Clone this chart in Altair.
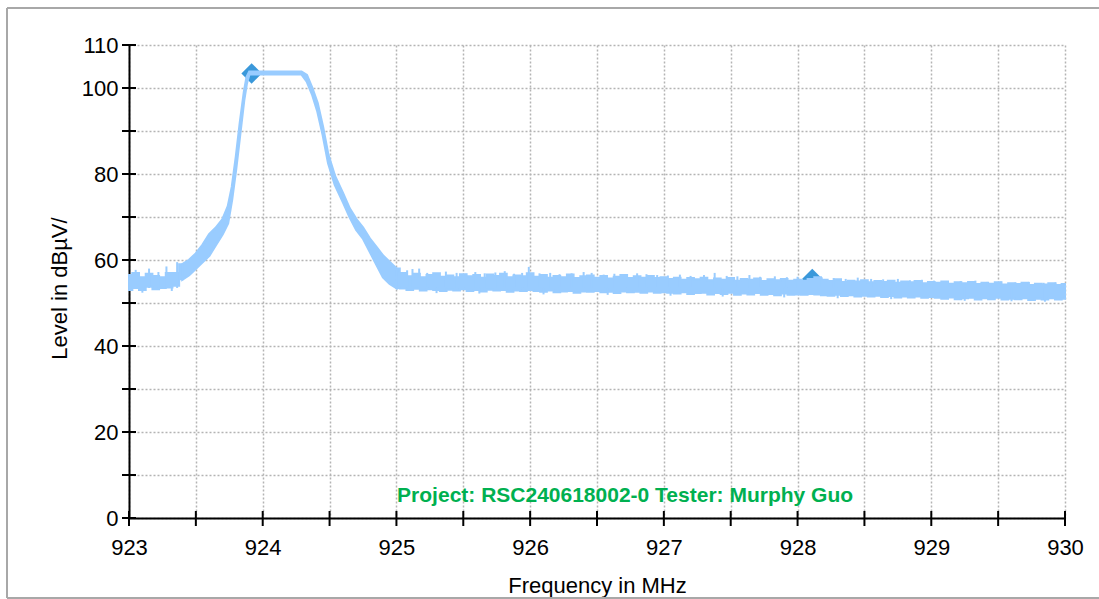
import altair as alt
import pandas as pd

# ---- Spectrum trace: lower / upper envelope of the sweep (dBµV) ----
# 923.00 .. 923.40 MHz, noise floor before the carrier
floor1_freq = [923.00, 923.05, 923.10, 923.15, 923.20, 923.25, 923.30, 923.35, 923.40]
floor1_hi = [56.5, 57.0, 56.0, 56.8, 56.3, 56.0, 57.0, 57.0, 59.0]
floor1_lo = [53.0, 53.5, 53.0, 53.8, 53.2, 53.5, 53.6, 54.0, 55.5]

# carrier: rising edge, flat top, falling edge
carrier_freq = [923.40, 923.45, 923.50, 923.55, 923.60, 923.65, 923.70, 923.74, 923.77, 923.80,
                923.83, 923.86, 923.88, 923.90, 924.29, 924.33, 924.37, 924.41, 924.45,
                924.49, 924.54, 924.60, 924.65, 924.70, 924.75, 924.80, 924.85, 924.90,
                924.95, 925.00]
carrier_hi = [59.0, 60.0, 61.5, 63.5, 66.0, 67.5, 69.5, 72.5, 77.0, 84.0,
              92.0, 99.0, 102.5, 103.8, 103.8, 103.0, 100.0, 96.5, 91.0,
              84.5, 79.5, 75.5, 72.0, 69.5, 67.5, 65.0, 63.0, 61.0,
              59.5, 58.0]
carrier_lo = [55.5, 56.5, 58.0, 59.5, 61.0, 63.5, 66.0, 68.5, 74.0, 81.0,
              89.0, 97.0, 101.0, 103.2, 103.2, 101.5, 98.5, 94.5, 89.0,
              82.5, 77.5, 73.5, 70.0, 67.0, 65.0, 62.0, 59.0, 56.0,
              54.5, 53.5]

# 925.00 .. 930.00 MHz, noise floor after the carrier (0.05 MHz sweep points)
floor2_freq = [round(925.00 + 0.05 * i, 2) for i in range(101)]
floor2_hi = [
    58.0,
    57.0, 56.2, 56.8, 56.0, 56.5, 56.9, 56.1, 56.4, 56.0, 56.7, 56.2, 56.5, 55.9, 56.6, 56.3, 56.8, 56.0, 56.4, 56.2, 56.9,
    56.1, 56.5, 55.9, 56.3, 56.0, 56.6, 55.8, 56.2, 56.4, 55.9, 56.3, 55.7, 56.1, 56.5, 55.8, 56.2, 55.9, 56.3, 55.8, 56.0,
    55.6, 55.9, 55.4, 55.8, 55.5, 55.9, 55.3, 55.7, 55.4, 55.8, 55.2, 55.6, 55.4, 55.7, 55.1, 55.5, 55.3, 55.6, 55.2, 55.4,
    55.2, 55.6, 56.0, 55.4, 55.1, 55.5, 54.9, 55.2, 55.0, 55.3, 54.8, 55.1, 54.9, 55.2, 54.7, 55.0, 54.8, 55.1, 54.6, 54.9,
    54.7, 55.0, 54.5, 54.8, 54.6, 54.9, 54.4, 54.7, 54.5, 54.8, 54.3, 54.6, 54.4, 54.7, 54.2, 54.5, 54.3, 54.6, 54.2, 54.4,
]
floor2_lo = [
    53.5,
    53.4, 53.0, 53.3, 52.9, 53.2, 53.0, 52.8, 53.1, 52.9, 53.2, 52.8, 53.0, 52.7, 53.1, 52.9, 53.0, 52.6, 52.9, 52.8, 53.0,
    52.8, 52.6, 52.9, 52.5, 52.7, 52.8, 52.4, 52.7, 52.6, 52.8, 52.5, 52.6, 52.3, 52.7, 52.5, 52.6, 52.4, 52.7, 52.4, 52.5,
    52.4, 52.2, 52.5, 52.1, 52.3, 52.4, 52.0, 52.3, 52.1, 52.4, 51.9, 52.2, 52.0, 52.3, 51.9, 52.1, 51.8, 52.2, 51.9, 52.0,
    51.9, 52.1, 52.0, 51.8, 51.7, 51.9, 51.6, 51.8, 51.5, 51.7, 51.5, 51.7, 51.4, 51.6, 51.3, 51.5, 51.3, 51.5, 51.2, 51.4,
    51.2, 51.0, 51.3, 50.9, 51.1, 51.2, 50.8, 51.1, 50.9, 51.2, 50.8, 51.0, 50.9, 51.1, 50.7, 51.0, 50.8, 51.1, 50.8, 51.0,
]

# isolated noise peaks rising above the floor
spike_freq = [923.05, 923.15, 923.22, 923.28, 923.36,
              925.08, 925.12, 925.17, 925.23, 925.31, 925.37, 925.45, 925.52, 925.59, 925.66,
              925.74, 925.81, 925.88, 925.94, 925.99, 926.07, 926.15, 926.22, 926.31, 926.40,
              926.46, 926.55, 926.63, 926.71, 926.80, 926.87, 926.95, 927.03, 927.12, 927.20,
              927.30, 927.38, 927.47, 927.55, 927.64, 927.72, 927.83, 927.92, 928.00, 928.18,
              928.27, 928.36, 928.45, 928.55, 928.64, 928.75, 928.84, 928.93, 929.02, 929.12,
              929.22, 929.33, 929.42, 929.52, 929.63, 929.73, 929.84, 929.93, 929.98]
spike_top = [57.7, 58.0, 57.2, 58.5, 59.5,
             57.6, 57.9, 58.0, 57.0, 56.9, 57.3, 57.0, 56.8, 57.2, 56.9,
             57.1, 57.4, 56.8, 57.0, 58.4, 56.9, 57.0, 56.7, 56.9, 57.2,
             57.0, 56.6, 56.8, 56.6, 56.9, 56.7, 56.5, 56.4, 56.6, 56.3,
             56.5, 57.0, 56.3, 56.2, 56.5, 56.1, 56.2, 56.0, 56.1, 56.0,
             55.8, 55.6, 55.9, 55.6, 55.5, 55.6, 55.3, 55.4, 55.2, 55.0,
             55.1, 55.2, 54.9, 55.0, 54.8, 54.9, 54.7, 54.8, 54.6]
# dips below the floor
dip_freq = [923.10, 923.32, 925.30, 925.62, 926.10, 926.58, 927.05, 927.44, 927.90,
            928.30, 928.70, 929.25, 929.60, 929.85]
dip_bottom = [52.4, 52.8, 52.3, 52.2, 52.0, 51.9, 51.7, 51.5, 51.3,
              51.1, 50.9, 50.5, 50.4, 50.3]
floor_mid = 53.5

# markers
marker_freq = [923.917, 928.11]
marker_level = [103.4, 55.6]

# axis ticks
x_ticks = [923.0, 923.5, 924.0, 924.5, 925.0, 925.5, 926.0, 926.5, 927.0,
           927.5, 928.0, 928.5, 929.0, 929.5, 930.0]
y_ticks = [0, 10, 20, 30, 40, 50, 60, 70, 80, 90, 100, 110]
y_labelled = [0, 20, 40, 60, 80, 100, 110]

note_text = "Project: RSC240618002-0 Tester: Murphy Guo"
note_freq = 926.71
note_level = 3.7

TRACE = "#99CCFF"
MARKER = "#3A98DA"
FONT = "Liberation Sans"

floor_df = pd.DataFrame({
    "freq": floor1_freq + floor2_freq,
    "lo": floor1_lo + floor2_lo,
    "hi": floor1_hi + floor2_hi,
    "seg": ["a"] * len(floor1_freq) + ["b"] * len(floor2_freq),
})
carrier_df = pd.DataFrame({"freq": carrier_freq, "lo": carrier_lo, "hi": carrier_hi})
spikes = pd.DataFrame({"freq": spike_freq + dip_freq,
                       "end": spike_top + dip_bottom,
                       "mid": floor_mid})
markers = pd.DataFrame({"freq": marker_freq, "level": marker_level})
xt = pd.DataFrame({"freq": x_ticks})
yt = pd.DataFrame({"level": y_ticks})
note = pd.DataFrame({"freq": [note_freq], "level": [note_level], "text": [note_text]})

xscale = alt.Scale(domain=[923, 930], nice=False, zero=False)
yscale = alt.Scale(domain=[0, 110], nice=False)

label_list = "[" + ", ".join(str(v) for v in y_labelled) + "]"

x_axis = alt.Axis(
    values=x_ticks,
    labelExpr="datum.value % 1 == 0 ? format(datum.value, 'd') : ''",
    title="Frequency in MHz",
    titleFont=FONT, titleFontSize=22, titleFontWeight="normal", titleColor="black",
    titleY=74, titleBaseline="alphabetic",
    labelFont=FONT, labelFontSize=22, labelColor="black", labelPadding=19,
    tickSize=0, domainColor="black", domainWidth=2,
    grid=True, gridColor="#b4b4b4", gridDash=[2, 2], gridWidth=1.5,
    labelFlush=False,
)
y_axis = alt.Axis(
    values=y_ticks,
    labelExpr="indexof(" + label_list + ", datum.value) >= 0 ? datum.label : ''",
    title="Level in dBµV/",
    titleFont=FONT, titleFontSize=22, titleFontWeight="normal", titleColor="black",
    titleAngle=270, titleX=-63, titleY=243, titleAlign="center", titleBaseline="alphabetic",
    labelFont=FONT, labelFontSize=22, labelColor="black", labelPadding=11,
    tickSize=0, domainColor="black", domainWidth=2,
    grid=True, gridColor="#b4b4b4", gridDash=[2, 2], gridWidth=1.5,
    labelFlush=False,
)

# window frame: top, left and bottom edges
frame_color = "#a8a8a8"
frame_top = alt.Chart(note).mark_rule(color=frame_color, strokeWidth=2).encode(
    x=alt.value(-122), x2=alt.value(975), y=alt.value(-37)
)
frame_left = alt.Chart(note).mark_rule(color=frame_color, strokeWidth=2).encode(
    x=alt.value(-122), y=alt.value(-37), y2=alt.value(553)
)
frame_bottom = alt.Chart(note).mark_rule(color=frame_color, strokeWidth=2).encode(
    x=alt.value(-122), x2=alt.value(975), y=alt.value(553)
)

marker_layer = alt.Chart(markers).mark_point(
    shape="diamond", filled=True, size=420, color=MARKER, opacity=1
).encode(
    x=alt.X("freq:Q", scale=xscale, axis=x_axis),
    y=alt.Y("level:Q", scale=yscale, axis=y_axis),
)

floor_band = alt.Chart(floor_df).mark_area(
    color=TRACE, stroke=TRACE, strokeWidth=2, opacity=1, fillOpacity=1,
    interpolate="step",
).encode(
    x=alt.X("freq:Q", scale=xscale),
    y=alt.Y("lo:Q", scale=yscale),
    y2="hi:Q",
    detail="seg:N",
)

carrier_band = alt.Chart(carrier_df).mark_area(
    color=TRACE, stroke=TRACE, strokeWidth=2.5, opacity=1, fillOpacity=1,
).encode(
    x=alt.X("freq:Q", scale=xscale),
    y=alt.Y("lo:Q", scale=yscale),
    y2="hi:Q",
)

spike_layer = alt.Chart(spikes).mark_rule(color=TRACE, strokeWidth=2).encode(
    x=alt.X("freq:Q", scale=xscale),
    y=alt.Y("mid:Q", scale=yscale),
    y2="end:Q",
)

y_tick_layer = alt.Chart(yt).mark_rule(color="black", strokeWidth=2).encode(
    x=alt.value(-7), x2=alt.value(7),
    y=alt.Y("level:Q", scale=yscale),
)
x_tick_layer = alt.Chart(xt).mark_rule(color="black", strokeWidth=2).encode(
    x=alt.X("freq:Q", scale=xscale),
    y=alt.value(466), y2=alt.value(481),
)

note_layer = alt.Chart(note).mark_text(
    font=FONT, fontSize=21, fontWeight="bold", color="#00B050",
    align="center", baseline="alphabetic",
).encode(
    x=alt.X("freq:Q", scale=xscale),
    y=alt.Y("level:Q", scale=yscale),
    text="text:N",
)

chart = alt.layer(
    frame_top, frame_left, frame_bottom, marker_layer, floor_band, carrier_band,
    spike_layer, y_tick_layer, x_tick_layer, note_layer
).properties(
    width=936, height=473,
    autosize=alt.AutoSizeParams(type="none"),
    padding={"left": 129, "top": 45, "right": 34, "bottom": 81},
    background="white",
).configure_view(strokeWidth=0)

chart.save("out.html", embed_options={"renderer": "svg", "actions": False})
